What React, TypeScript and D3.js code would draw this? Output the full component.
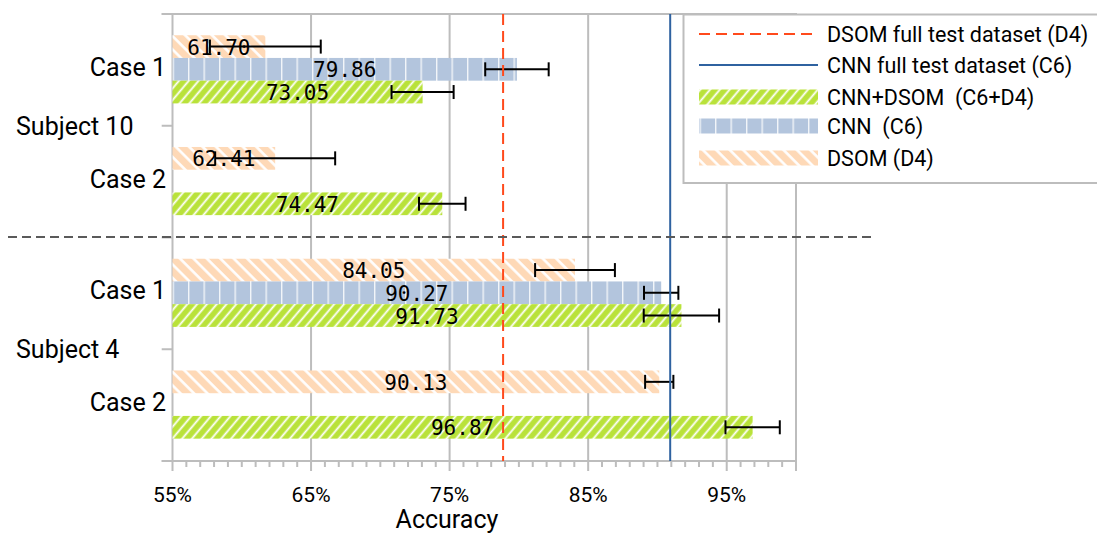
import React from "react";
import * as d3 from "d3";

const caseKeys = ["s10c1", "s10c2", "s4c1", "s4c2"];
const caseLabels = ["Case 1", "Case 2", "Case 1", "Case 2"];
const subjectLabels = ["Subject 10", "Subject 4"];
const seriesNames = ["DSOM (D4)", "CNN (C6)", "CNN+DSOM (C6+D4)"];
const dsomValues = [61.7, 62.41, 84.05, 90.13];
const dsomErrors = [4.0, 4.33, 2.88, 1.02];
const cnnValues: (number | null)[] = [79.86, null, 90.27, null];
const cnnErrors: (number | null)[] = [2.29, null, 1.24, null];
const comboValues = [73.05, 74.47, 91.73, 96.87];
const comboErrors = [2.24, 1.68, 2.72, 1.96];
const dsomFull = 78.86;
const cnnFull = 90.92;
const xTicks = [55, 65, 75, 85, 95];
const xMinorTicks = d3.range(55, 101, 1);
const legendLabels = [
  "DSOM full test dataset (D4)",
  "CNN full test dataset (C6)",
  "CNN+DSOM  (C6+D4)",
  "CNN  (C6)",
  "DSOM (D4)",
];

const FONT = "Roboto, 'Noto Sans', sans-serif";
const MONO = "'DejaVu Sans Mono', monospace";
const GRID = "#bdbdbd";

export default function App() {
  const x = d3.scaleLinear().domain([55, 100]).range([172.5, 796]);
  const y = d3.scaleBand<string>().domain(caseKeys).range([14, 461]).padding(0);
  const bw = y.bandwidth();
  const inner = d3
    .scaleBand<string>()
    .domain(seriesNames)
    .range([bw * 0.19, bw * 0.8])
    .padding(0);
  const bh = inner.bandwidth();
  const fills = ["url(#pOrange)", "url(#pBlue)", "url(#pGreen)"];
  const data = [
    { vals: dsomValues as (number | null)[], errs: dsomErrors as (number | null)[] },
    { vals: cnnValues, errs: cnnErrors },
    { vals: comboValues as (number | null)[], errs: comboErrors as (number | null)[] },
  ];
  const yTop = 14;
  const yBot = 461;
  const x0 = x(55);

  const bars: any[] = [];
  const labels: any[] = [];
  const errs: any[] = [];
  data.forEach((s, si) => {
    s.vals.forEach((v, ci) => {
      if (v == null) return;
      const by = (y(caseKeys[ci]) as number) + (inner(seriesNames[si]) as number);
      bars.push(
        <rect key={`b${si}${ci}`} x={x0} y={by} width={x(v) - x0} height={bh} fill={fills[si]} />
      );
      labels.push(
        <text
          key={`l${si}${ci}`}
          x={(x0 + x(v)) / 2}
          y={by + bh / 2 + 8}
          textAnchor="middle"
          fontFamily={MONO}
          fontSize={21}
          fill="#000"
        >
          {v.toFixed(2)}
        </text>
      );
      const e = s.errs[ci] as number;
      const cy = by + bh / 2;
      errs.push(
        <g key={`e${si}${ci}`} stroke="#000" strokeWidth={2}>
          <line x1={x(v - e)} x2={x(v + e)} y1={cy} y2={cy} />
          <line x1={x(v - e)} x2={x(v - e)} y1={cy - 7} y2={cy + 7} />
          <line x1={x(v + e)} x2={x(v + e)} y1={cy - 7} y2={cy + 7} />
        </g>
      );
    });
  });

  const yTickPos = [yTop, ...caseKeys.map((k) => (y(k) as number) + bw)];
  const legX0 = 699;
  const legX1 = 818;
  const legY = [34, 65, 97, 126, 158];

  return (
    <svg
      width={1097}
      height={534}
      style={{ position: "absolute", left: 0, top: 0, display: "block", background: "#fff" }}
    >
      <defs>
        <pattern id="pOrange" patternUnits="userSpaceOnUse" width={9.5} height={9.5} patternTransform="rotate(-45)">
          <rect width={9.5} height={9.5} fill="#fed9b7" />
          <line x1={1.5} x2={1.5} y1={0} y2={9.5} stroke="#fff" strokeWidth={2.6} />
        </pattern>
        <pattern id="pGreen" patternUnits="userSpaceOnUse" width={7.5} height={7.5} patternTransform="rotate(40)">
          <rect width={7.5} height={7.5} fill="#b9e23a" />
          <line x1={1.5} x2={1.5} y1={0} y2={7.5} stroke="#fff" strokeWidth={1.8} />
        </pattern>
        <pattern id="pBlue" patternUnits="userSpaceOnUse" x={172.5} y={0} width={15.5} height={20}>
          <rect width={15.5} height={20} fill="#b3c5dd" />
          <line x1={0.5} x2={0.5} y1={0} y2={20} stroke="#f2f5f9" strokeWidth={1.8} />
        </pattern>
      </defs>

      {xTicks.map((t) => (
        <line key={`g${t}`} x1={x(t)} x2={x(t)} y1={yTop} y2={471} stroke={GRID} strokeWidth={2} />
      ))}
      <line x1={x(100)} x2={x(100)} y1={yTop} y2={471} stroke={GRID} strokeWidth={2} />
      <line x1={161.7} x2={x(100) + 1} y1={yTop} y2={yTop} stroke={GRID} strokeWidth={2} />
      {xMinorTicks
        .filter((t) => !xTicks.includes(t) && t !== 100)
        .map((t) => (
          <line key={`m${t}`} x1={x(t)} x2={x(t)} y1={yBot} y2={467} stroke={GRID} strokeWidth={2} />
        ))}
      <line x1={161.7} x2={x(100) + 1} y1={yBot} y2={yBot} stroke={GRID} strokeWidth={2} />
      {yTickPos.map((p, i) => (
        <line key={`yt${i}`} x1={161.7} x2={x0} y1={p} y2={p} stroke={GRID} strokeWidth={2} />
      ))}

      {bars}
      {labels}
      {errs}

      <line x1={x(dsomFull)} x2={x(dsomFull)} y1={yTop} y2={yBot} stroke="#ff4a1c" strokeWidth={2} strokeDasharray="11,6" />
      <line x1={x(cnnFull)} x2={x(cnnFull)} y1={yTop} y2={yBot} stroke="#2f62a0" strokeWidth={2} />

      <line x1={8} x2={873} y1={(y("s4c1") as number) - 0.5} y2={(y("s4c1") as number) - 0.5} stroke="#5a5a5a" strokeWidth={2} strokeDasharray="9,5" />

      {caseKeys.map((k, i) => (
        <text
          key={`cl${k}`}
          x={166}
          y={(y(k) as number) + bw / 2 + 6}
          textAnchor="end"
          fontFamily={FONT}
          fontSize={25}
          fill="#000"
        >
          {caseLabels[i]}
        </text>
      ))}
      {subjectLabels.map((s, i) => (
        <text
          key={`sl${i}`}
          x={16}
          y={(y(caseKeys[i * 2]) as number) + bw + 9}
          fontFamily={FONT}
          fontSize={25}
          fill="#000"
        >
          {s}
        </text>
      ))}

      {xTicks.map((t) => (
        <text key={`xl${t}`} x={x(t)} y={501.5} textAnchor="middle" fontFamily={FONT} fontSize={21} fill="#000">
          {`${t}%`}
        </text>
      ))}
      <text x={447} y={528} textAnchor="middle" fontFamily={FONT} fontSize={25} fill="#000">
        Accuracy
      </text>

      <rect x={683.5} y={14.5} width={430} height={168.5} fill="#fff" stroke={GRID} strokeWidth={2} />
      <line x1={legX0} x2={legX1} y1={legY[0]} y2={legY[0]} stroke="#ff4a1c" strokeWidth={2} strokeDasharray="11,6" />
      <line x1={legX0} x2={legX1} y1={legY[1]} y2={legY[1]} stroke="#2f62a0" strokeWidth={2} />
      {["url(#pGreen)", "url(#pBlue)", "url(#pOrange)"].map((f, i) => (
        <rect key={`ls${i}`} x={legX0} y={legY[i + 2] - 7.5} width={legX1 - legX0} height={15} fill={f} />
      ))}
      {legendLabels.map((l, i) => (
        <text
          key={`lt${i}`}
          x={827}
          y={legY[i] + 8}
          fontFamily={FONT}
          fontSize={21.5}
          fill="#000"
          style={{ whiteSpace: "pre" }}
        >
          {l}
        </text>
      ))}
    </svg>
  );
}
